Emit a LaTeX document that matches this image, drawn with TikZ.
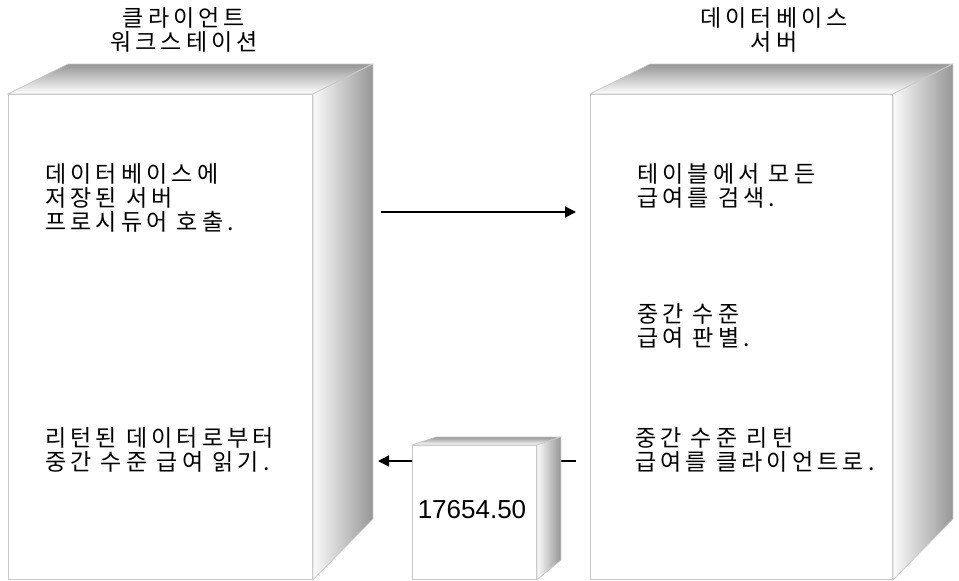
\documentclass[tikz,border=0pt]{standalone}
\usepackage{fontspec}
\setmainfont{Noto Sans CJK KR}[LetterSpace=18]
\newfontfamily\numfont{Liberation Sans}
\usetikzlibrary{arrows.meta}
\definecolor{edgegray}{RGB}{200,200,200}
\definecolor{shadegray}{RGB}{150,150,150}
\definecolor{lightface}{RGB}{250,250,250}
\tikzset{
  frontface/.style={draw=edgegray, line width=0.9pt, fill=white, inner sep=0pt, anchor=north west},
  topface/.style={draw=edgegray, line width=0.7pt, top color=shadegray, bottom color=white},
  sideface/.style={draw=edgegray, line width=0.7pt, left color=lightface, right color=shadegray},
  label/.style={font=\fontsize{23}{24}\selectfont, align=left, inner sep=0pt, anchor=north west},
  title/.style={font=\fontsize{23}{24}\selectfont, align=center, inner sep=0pt},
  arr/.style={line width=1.5pt, -{Triangle[length=11pt,width=11pt]}}
}
\begin{document}
\begin{tikzpicture}[x=1pt,y=-1pt]
\useasboundingbox (0,0) rectangle (959,581);
% client box
\node[frontface, minimum width=304pt, minimum height=485pt] (client) at (8,94) {};
\shade[topface] (client.north west) -- ++(60,-30) -- ++(304,0) -- (client.north east) -- cycle;
\shade[sideface] (client.north east) -- ++(60,-30) -- ++(0,455) -- (client.south east) -- cycle;
% server box
\node[frontface, minimum width=302pt, minimum height=485pt] (server) at (590,94) {};
\shade[topface] (server.north west) -- ++(60,-30) -- ++(302,0) -- (server.north east) -- cycle;
\shade[sideface] (server.north east) -- ++(60,-30) -- ++(0,455) -- (server.south east) -- cycle;
% titles
\node[title] (tclient) at (184,30) {클라이언트\\워크스테이션};
\node[title] (tserver) at (774,30) {데이터베이스\\서버};
% labels
\node[label] (l1) at (45,163) {데이터베이스에\\저장된 서버\\프로시듀어 호출.};
\node[label] (l2) at (45,427) {리턴된 데이터로부터\\중간 수준 급여 읽기.};
\node[label] (r1) at (637,163) {테이블에서 모든\\급여를 검색.};
\node[label] (r2) at (637,303) {중간 수준\\급여 판별.};
\node[label] (r3) at (635,427) {중간 수준 리턴\\급여를 클라이언트로.};
% arrows
\coordinate (a1s) at (381,212);
\coordinate (a1e) at (576,212);
\draw[arr] (a1s) -- (a1e);
\coordinate (a2s) at (576,461);
\coordinate (a2e) at (378,461);
\draw[arr] (a2s) -- (a2e);
% data cube
\node[frontface, minimum width=124pt, minimum height=134pt] (cube) at (412,445) {};
\shade[topface] (cube.north west) -- ++(24,-8) -- ++(124,0) -- (cube.north east) -- cycle;
\shade[sideface] (cube.north east) -- ++(24,-8) -- ++(0,123) -- (cube.south east) -- cycle;
\node[font=\numfont\fontsize{26}{30}\selectfont, inner sep=0pt] (val) at (472,510) {17654.50};
\end{tikzpicture}
\end{document}
